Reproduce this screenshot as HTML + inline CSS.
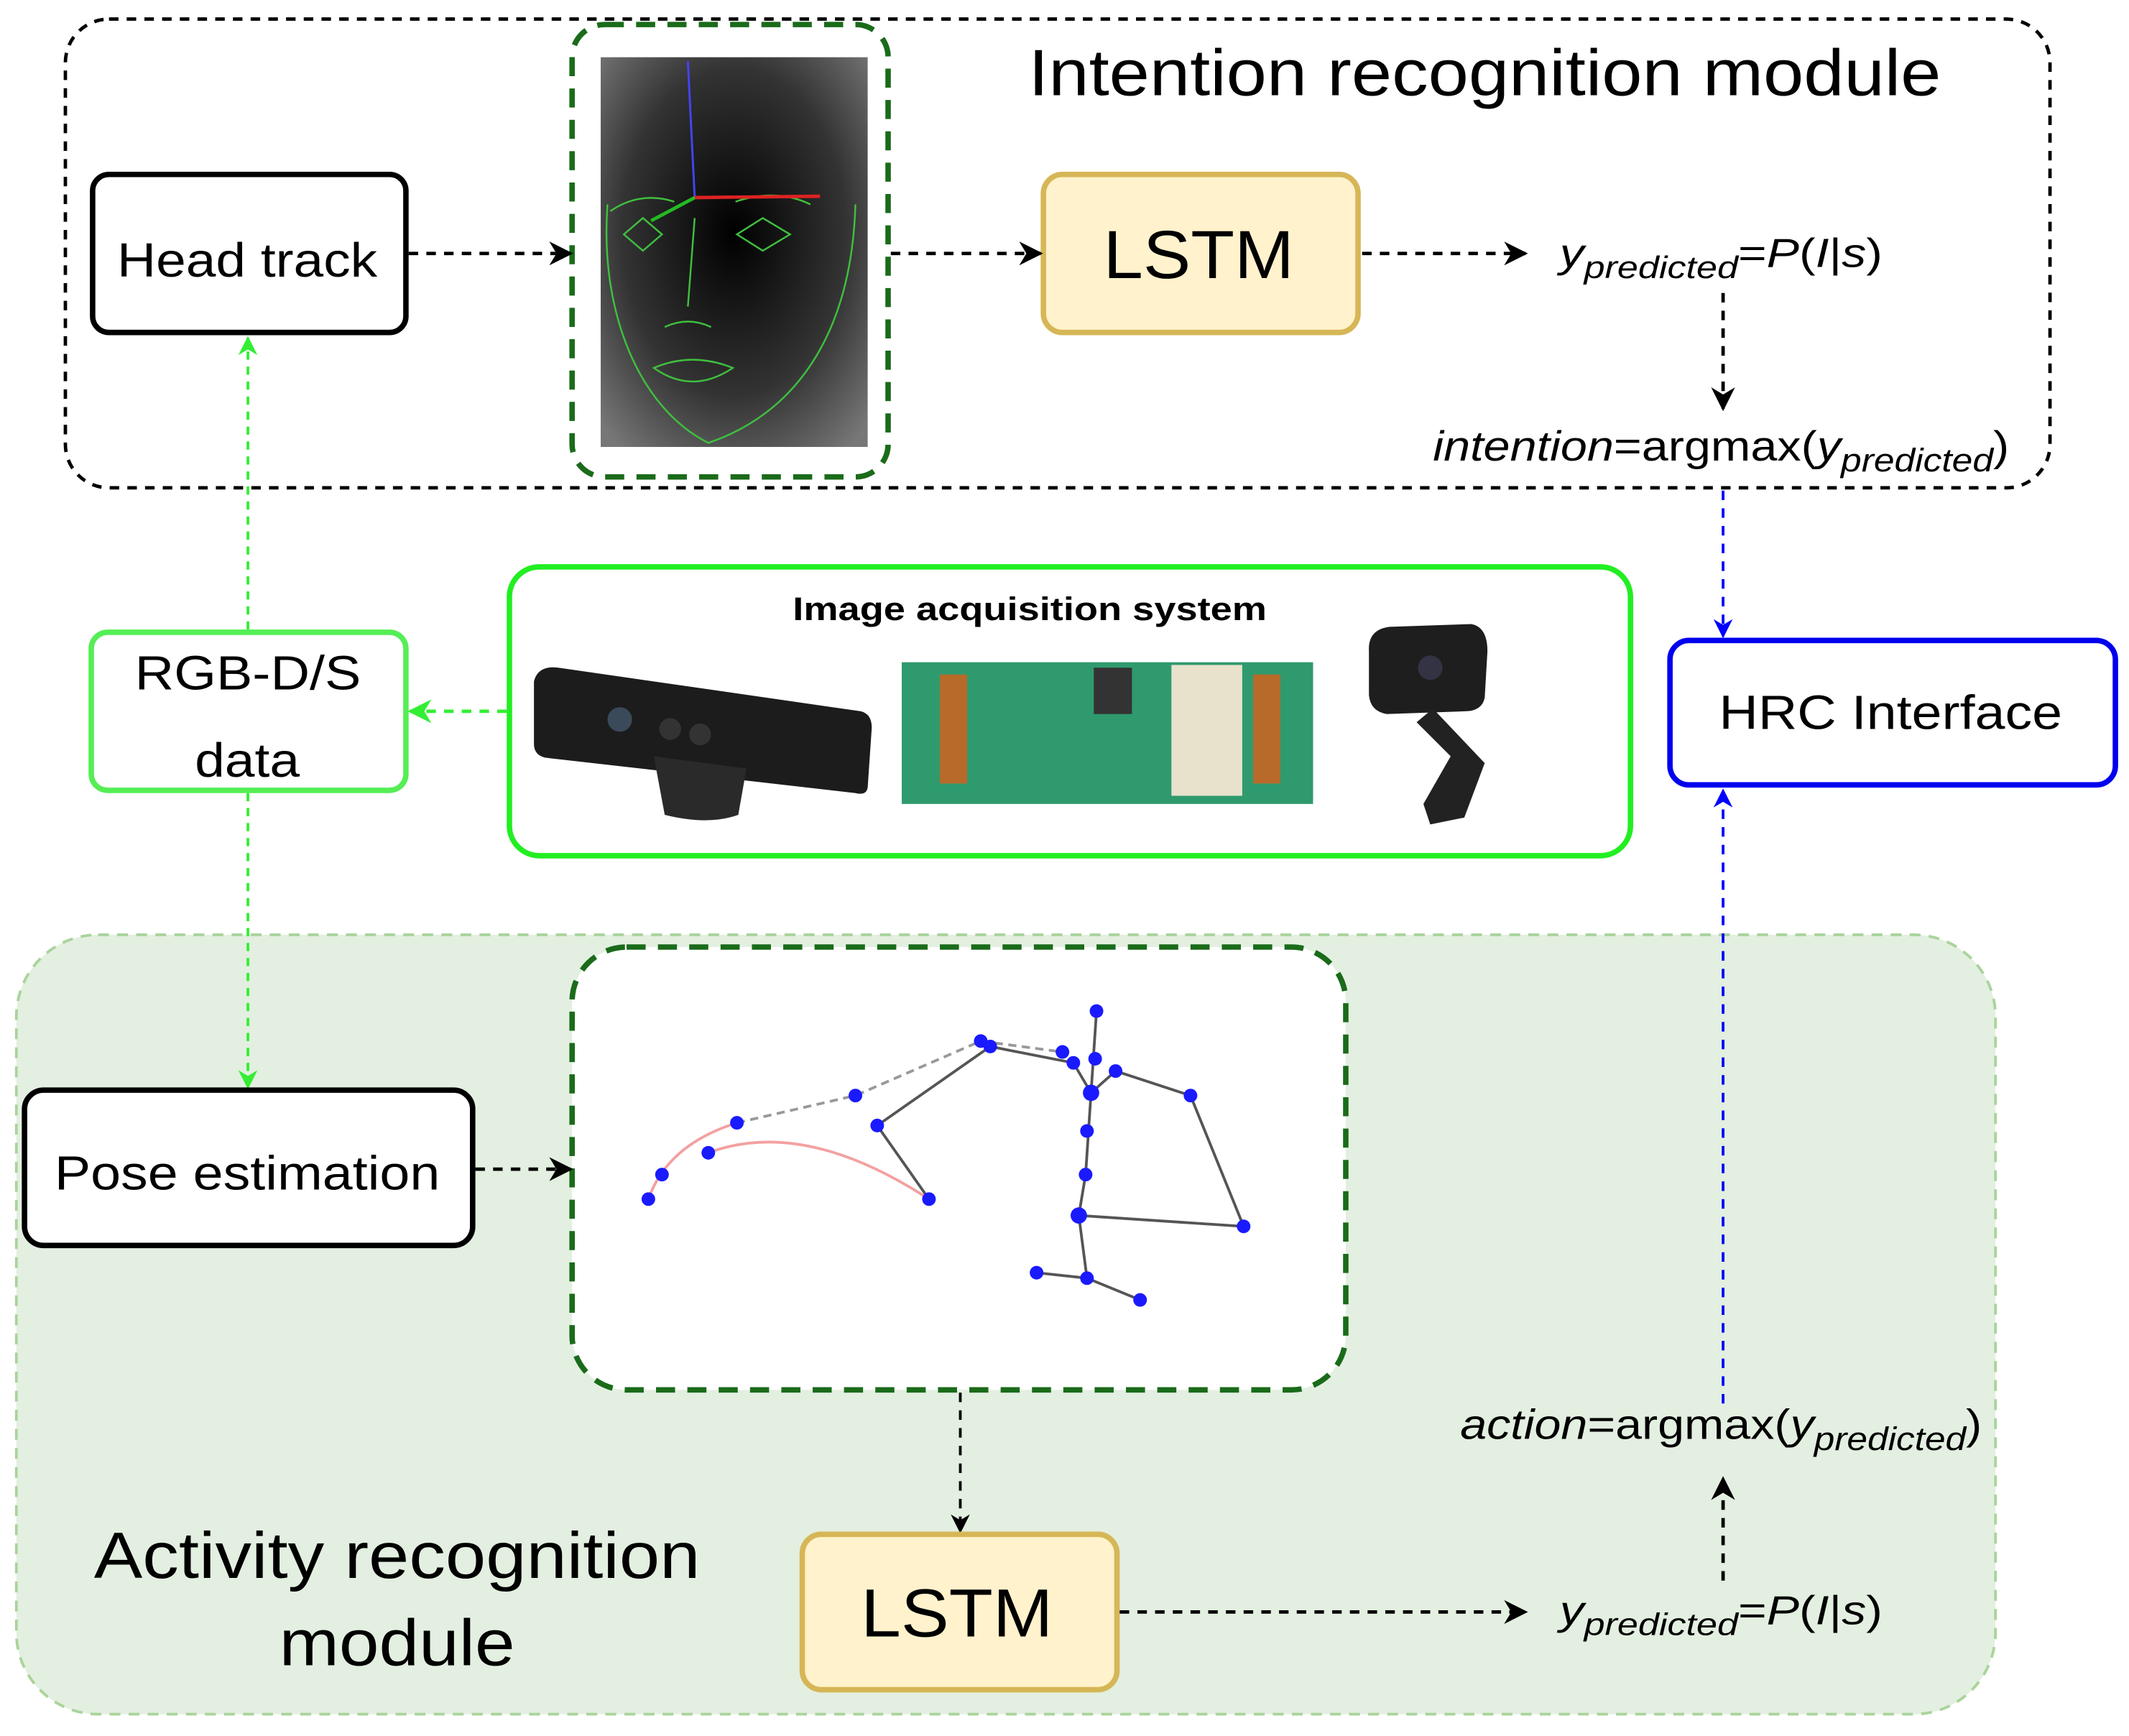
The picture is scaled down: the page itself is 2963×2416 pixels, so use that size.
<!DOCTYPE html>
<html><head><meta charset="utf-8"><style>
html,body{margin:0;padding:0;background:#fff;}
svg{display:block;}
text{font-family:"Liberation Sans",Arial,sans-serif;}
</style></head><body>
<svg width="2963" height="2416" viewBox="0 0 1563 1274" preserveAspectRatio="none" xmlns="http://www.w3.org/2000/svg">
<defs>
<marker id="ak" viewBox="0 0 10 10" refX="9" refY="5" markerWidth="7" markerHeight="7" orient="auto"><path d="M0,0 L10,5 L0,10 L3,5 Z" fill="#000"/></marker>
<marker id="ag" viewBox="0 0 10 10" refX="9" refY="5" markerWidth="7" markerHeight="7" orient="auto"><path d="M0,0 L10,5 L0,10 L3,5 Z" fill="#33ee33"/></marker>
<marker id="ab" viewBox="0 0 10 10" refX="9" refY="5" markerWidth="7" markerHeight="7" orient="auto"><path d="M0,0 L10,5 L0,10 L3,5 Z" fill="#0000ff"/></marker>
<radialGradient id="fg" cx="0.5" cy="0.45" r="0.7"><stop offset="0" stop-color="#000"/><stop offset="0.6" stop-color="#333"/><stop offset="1" stop-color="#777"/></radialGradient>
</defs>

<rect x="12" y="686" width="1453" height="572" rx="60" fill="#e3efe0" stroke="#a9d49b" stroke-width="2" stroke-dasharray="8,6"/>

<rect x="48" y="14" width="1457" height="344" rx="32" fill="none" stroke="#000" stroke-width="2.5" stroke-dasharray="7,6"/>
<text x="755" y="70" font-size="48" fill="#000" textLength="670" lengthAdjust="spacingAndGlyphs">Intention recognition module</text>

<rect x="420" y="18" width="232" height="332" rx="24" fill="#fff" stroke="#1a6b1a" stroke-width="4" stroke-dasharray="14,9"/>
<rect x="441" y="42" width="196" height="286" fill="url(#fg)"/>
<g fill="none" stroke="#3fbf3f" stroke-width="1.3">
<path d="M446,150 C440,230 470,300 520,325 C580,305 625,250 628,150"/>
<path d="M448,155 Q470,140 495,148"/><path d="M540,148 Q570,138 595,150"/>
<path d="M458,172 L472,160 L486,172 L472,184 Z"/><path d="M541,172 L560,160 L580,172 L560,184 Z"/>
<path d="M510,160 L505,225"/><path d="M488,240 Q505,232 522,240"/>
<path d="M480,270 Q508,258 538,270 Q508,290 480,270 Z"/>
</g>
<line x1="505" y1="45" x2="510" y2="145" stroke="#4444ff" stroke-width="1.5"/>
<line x1="510" y1="145" x2="602" y2="144" stroke="#dd2222" stroke-width="2.5"/>
<line x1="510" y1="145" x2="478" y2="162" stroke="#22bb22" stroke-width="2.5"/>

<rect x="68" y="128" width="230" height="116" rx="12" fill="#fff" stroke="#000" stroke-width="4"/>
<text x="86" y="203" font-size="35" textLength="191" lengthAdjust="spacingAndGlyphs">Head track</text>
<line x1="300" y1="186" x2="419" y2="186" stroke="#000" stroke-width="2.5" stroke-dasharray="7,6" marker-end="url(#ak)"/>

<rect x="766" y="128" width="231" height="116" rx="14" fill="#fff2cc" stroke="#d6b656" stroke-width="4"/>
<text x="810" y="204" font-size="50" textLength="140" lengthAdjust="spacingAndGlyphs">LSTM</text>
<line x1="654" y1="186" x2="764" y2="186" stroke="#000" stroke-width="2.5" stroke-dasharray="7,6" marker-end="url(#ak)"/>
<line x1="1000" y1="186" x2="1120" y2="186" stroke="#000" stroke-width="2.5" stroke-dasharray="7,6" marker-end="url(#ak)"/>
<text x="1145" y="196" font-size="30" font-style="italic" textLength="237" lengthAdjust="spacingAndGlyphs">y<tspan font-size="23" dy="8">predicted</tspan><tspan dy="-8" font-style="normal">=</tspan>P<tspan font-style="normal">(</tspan>I<tspan font-style="normal">|</tspan>s<tspan font-style="normal">)</tspan></text>
<line x1="1265" y1="215" x2="1265" y2="300" stroke="#000" stroke-width="2.5" stroke-dasharray="7,6" marker-end="url(#ak)"/>
<text x="1052" y="338" font-size="31" textLength="423" lengthAdjust="spacingAndGlyphs"><tspan font-style="italic">intention</tspan>=argmax(<tspan font-style="italic">y</tspan><tspan font-style="italic" font-size="24" dy="8">predicted</tspan><tspan dy="-8">)</tspan></text>

<rect x="374" y="416" width="823" height="212" rx="22" fill="#fff" stroke="#22ee22" stroke-width="4"/>
<text x="582" y="455" font-size="24" font-weight="bold" textLength="348" lengthAdjust="spacingAndGlyphs">Image acquisition system</text>
<path d="M392,500 Q395,488 410,490 L632,522 Q640,524 640,534 L637,578 Q636,584 628,582 L400,556 Q392,554 392,546 Z" fill="#1c1c1c"/>
<path d="M480,555 L548,564 L542,598 Q520,606 488,598 Z" fill="#2a2a2a"/>
<circle cx="455" cy="528" r="9" fill="#3a4a5a"/><circle cx="492" cy="535" r="8" fill="#333"/><circle cx="514" cy="539" r="8" fill="#333"/>
<rect x="662" y="486" width="302" height="104" fill="#2f9a6e"/>
<rect x="860" y="488" width="52" height="96" fill="#e8e2cc"/>
<rect x="803" y="490" width="28" height="34" fill="#333"/>
<rect x="690" y="495" width="20" height="80" fill="#b86a2a"/><rect x="920" y="495" width="20" height="80" fill="#b86a2a"/>
<path d="M1005,478 Q1004,462 1020,460 L1080,458 Q1092,460 1092,478 L1090,512 Q1088,522 1075,522 L1018,524 Q1006,522 1005,510 Z" fill="#1e1e1e"/>
<path d="M1052,520 L1090,560 L1075,600 L1050,605 L1045,590 L1065,555 L1040,530 Z" fill="#222"/>
<circle cx="1050" cy="490" r="9" fill="#334"/>

<rect x="67" y="464" width="231" height="116" rx="12" fill="#fff" stroke="#55ee55" stroke-width="4"/>
<text x="99" y="506" font-size="35" textLength="166" lengthAdjust="spacingAndGlyphs">RGB-D/S</text>
<text x="143" y="570" font-size="35" textLength="77" lengthAdjust="spacingAndGlyphs">data</text>
<line x1="372" y1="522" x2="301" y2="522" stroke="#33ee33" stroke-width="2.5" stroke-dasharray="7,6" marker-end="url(#ag)"/>
<line x1="182" y1="462" x2="182" y2="248" stroke="#33ee33" stroke-width="2" stroke-dasharray="6,5" marker-end="url(#ag)"/>
<line x1="182" y1="582" x2="182" y2="798" stroke="#33ee33" stroke-width="2" stroke-dasharray="6,5" marker-end="url(#ag)"/>

<rect x="1226" y="470" width="327" height="106" rx="14" fill="#fff" stroke="#0000ee" stroke-width="4"/>
<text x="1262" y="535" font-size="35" textLength="252" lengthAdjust="spacingAndGlyphs">HRC Interface</text>
<line x1="1265" y1="360" x2="1265" y2="467" stroke="#0000ff" stroke-width="2" stroke-dasharray="7,6" marker-end="url(#ab)"/>
<line x1="1265" y1="1030" x2="1265" y2="580" stroke="#0000ff" stroke-width="2" stroke-dasharray="7,6" marker-end="url(#ab)"/>

<rect x="420" y="695" width="568" height="325" rx="40" fill="#fff" stroke="#1a6b1a" stroke-width="4" stroke-dasharray="14,9"/>
<g stroke-width="2" fill="none">
<path d="M476,880 Q490,840 541,824" stroke="#f4a0a0"/>
<path d="M520,846 Q590,820 682,880" stroke="#f4a0a0"/>
<path d="M541,824 L628,804 L720,764 L780,772" stroke="#999" stroke-dasharray="6,4"/>
<path d="M682,880 L644,826 L727,768 L788,780 L801,802 L805,742 M801,802 L819,786 L874,804 L913,900 L792,892 M801,802 L797,862 L792,892 L798,938 L761,934 M798,938 L837,954" stroke="#555"/>
</g>
<g fill="#1a1aff">
<circle cx="476" cy="880" r="5"/><circle cx="486" cy="862" r="5"/><circle cx="520" cy="846" r="5"/><circle cx="541" cy="824" r="5"/><circle cx="628" cy="804" r="5"/><circle cx="682" cy="880" r="5"/><circle cx="644" cy="826" r="5"/><circle cx="720" cy="764" r="5"/><circle cx="727" cy="768" r="5"/><circle cx="780" cy="772" r="5"/><circle cx="788" cy="780" r="5"/><circle cx="805" cy="742" r="5"/><circle cx="804" cy="777" r="5"/><circle cx="801" cy="802" r="6"/><circle cx="819" cy="786" r="5"/><circle cx="874" cy="804" r="5"/><circle cx="798" cy="830" r="5"/><circle cx="797" cy="862" r="5"/><circle cx="792" cy="892" r="6"/><circle cx="913" cy="900" r="5"/><circle cx="798" cy="938" r="5"/><circle cx="761" cy="934" r="5"/><circle cx="837" cy="954" r="5"/>
</g>

<rect x="18" y="800" width="329" height="114" rx="14" fill="#fff" stroke="#000" stroke-width="4"/>
<text x="40" y="873" font-size="35" textLength="283" lengthAdjust="spacingAndGlyphs">Pose estimation</text>
<line x1="349" y1="858" x2="419" y2="858" stroke="#000" stroke-width="2.5" stroke-dasharray="7,6" marker-end="url(#ak)"/>
<line x1="705" y1="1022" x2="705" y2="1124" stroke="#000" stroke-width="2" stroke-dasharray="7,6" marker-end="url(#ak)"/>

<rect x="589" y="1126" width="231" height="114" rx="14" fill="#fff2cc" stroke="#d6b656" stroke-width="4"/>
<text x="632" y="1201" font-size="50" textLength="141" lengthAdjust="spacingAndGlyphs">LSTM</text>
<line x1="822" y1="1183" x2="1120" y2="1183" stroke="#000" stroke-width="2.5" stroke-dasharray="7,6" marker-end="url(#ak)"/>
<text x="1145" y="1192" font-size="30" font-style="italic" textLength="237" lengthAdjust="spacingAndGlyphs">y<tspan font-size="23" dy="8">predicted</tspan><tspan dy="-8" font-style="normal">=</tspan>P<tspan font-style="normal">(</tspan>I<tspan font-style="normal">|</tspan>s<tspan font-style="normal">)</tspan></text>
<line x1="1265" y1="1160" x2="1265" y2="1085" stroke="#000" stroke-width="2.5" stroke-dasharray="7,6" marker-end="url(#ak)"/>
<text x="1072" y="1056" font-size="31" textLength="383" lengthAdjust="spacingAndGlyphs"><tspan font-style="italic">action</tspan>=argmax(<tspan font-style="italic">y</tspan><tspan font-style="italic" font-size="24" dy="8">predicted</tspan><tspan dy="-8">)</tspan></text>

<text x="69" y="1158" font-size="48" textLength="445" lengthAdjust="spacingAndGlyphs">Activity recognition</text>
<text x="205" y="1222" font-size="48" textLength="173" lengthAdjust="spacingAndGlyphs">module</text>
</svg>
</body></html>
